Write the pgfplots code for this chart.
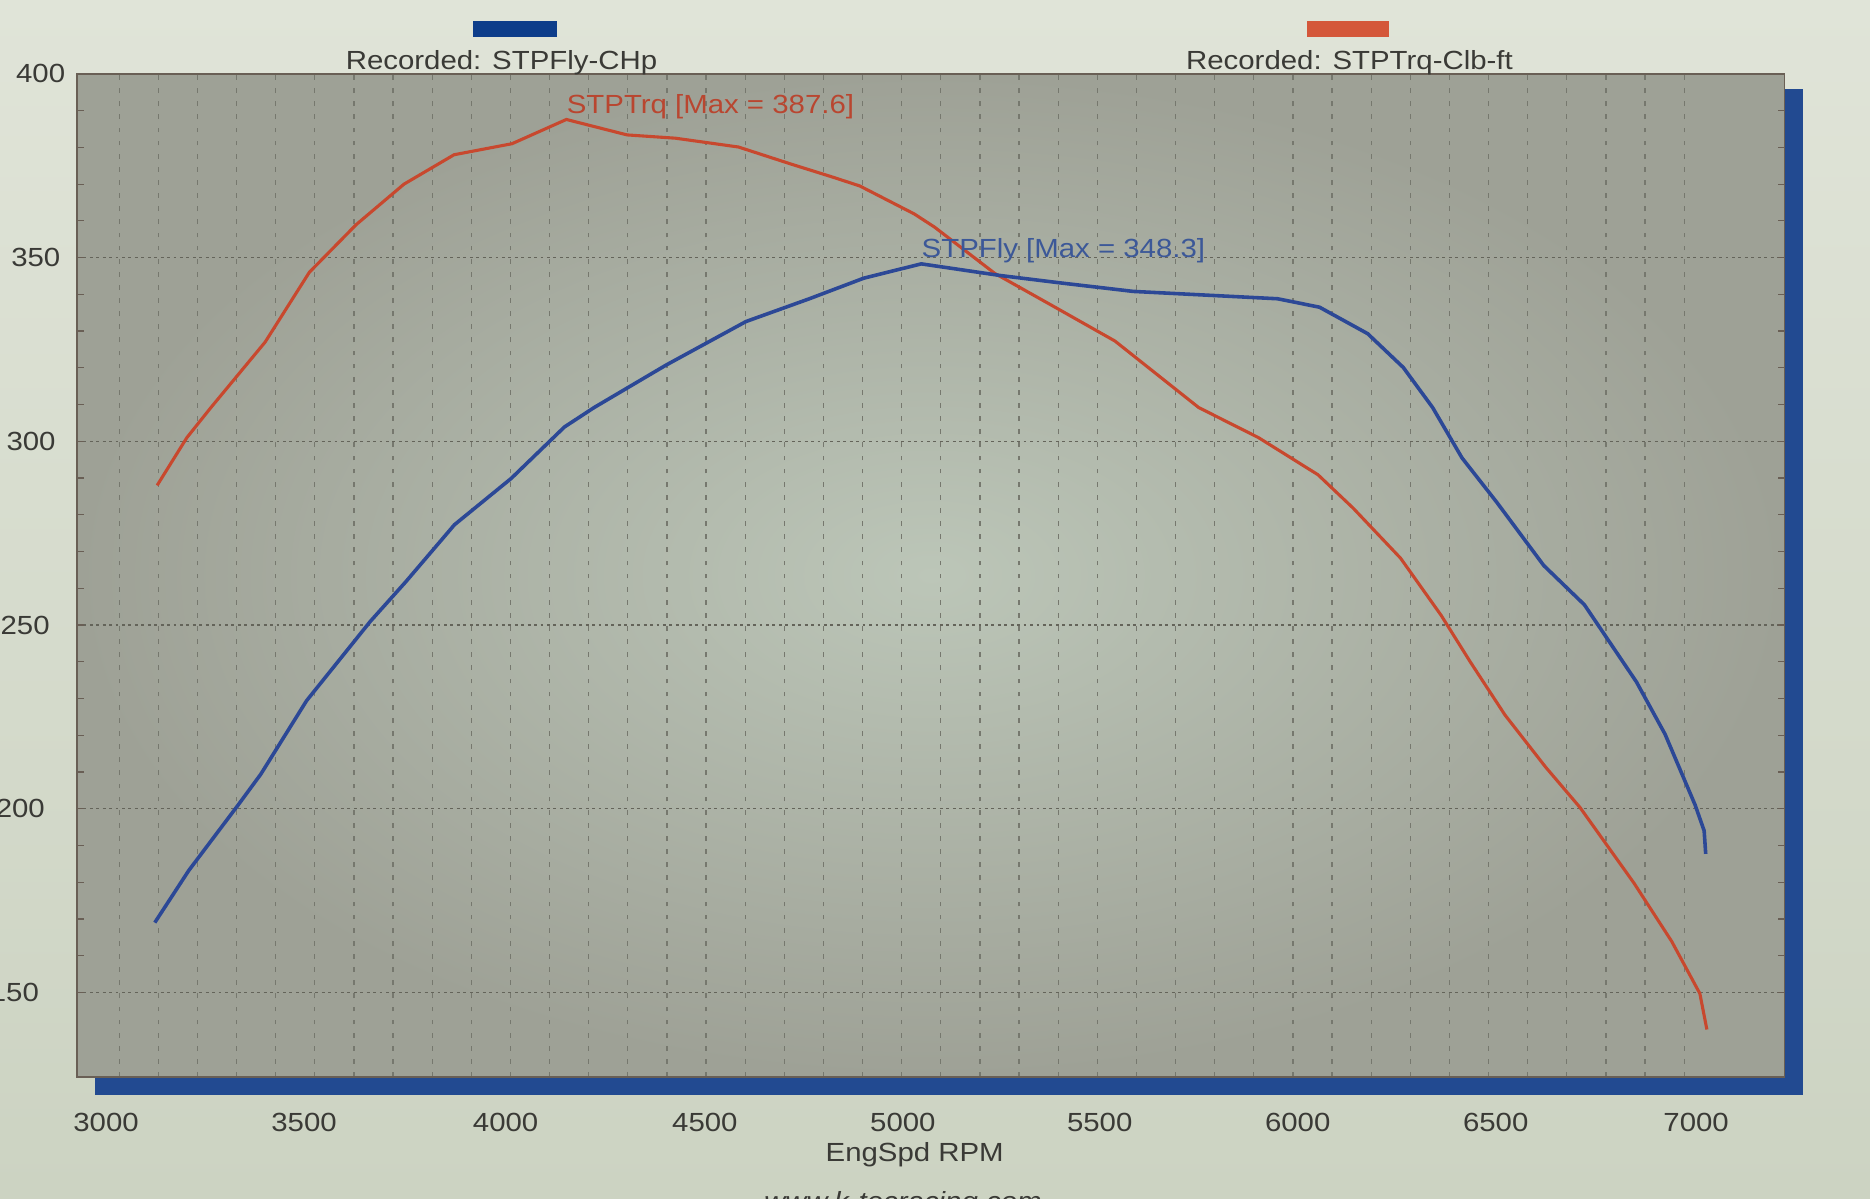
\documentclass[border=0pt]{standalone}
\usepackage{pgfplots}
\pgfplotsset{compat=1.18}
\usepackage{fontspec}
\setmainfont[FakeStretch=1.12]{Liberation Sans}
\definecolor{pagetop}{RGB}{224,228,216}
\definecolor{pagebot}{RGB}{204,211,194}
\definecolor{shadowblue}{RGB}{34,74,145}
\definecolor{plotin}{RGB}{188,198,184}
\definecolor{plotout}{RGB}{158,161,150}
\definecolor{gridc}{RGB}{118,120,110}
\definecolor{hgridc}{RGB}{100,100,90}
\definecolor{framec}{RGB}{105,95,85}
\definecolor{labc}{RGB}{58,58,54}
\definecolor{trqc}{RGB}{200,72,46}
\definecolor{trqtxt}{RGB}{185,70,48}
\definecolor{hpc}{RGB}{44,72,150}
\definecolor{hptxt}{RGB}{60,88,152}
\definecolor{legblue}{RGB}{13,61,138}
\definecolor{legorange}{RGB}{212,87,58}
\begin{document}
\fontsize{11pt}{13pt}\selectfont
\begin{tikzpicture}[x=1pt,y=1pt]
\shade[top color=pagetop, bottom color=pagebot] (0,0) rectangle (784,502.5);
\path[use as bounding box] (0,0) rectangle (784,502.5);
\fill[shadowblue] (39.75,43.5) rectangle (755.75,465);
\begin{axis}[
  at={(32.25pt,51pt)}, anchor=south west,
  scale only axis, width=716pt, height=420.5pt,
  xmin=2892, xmax=7257, ymin=127, ymax=400,
  axis background/.style={inner color=plotin, outer color=plotout},
  xtick={3000,3500,...,7000}, minor x tick num=4,
  ytick={150,200,...,400}, minor y tick num=4,
  xmajorgrids=true, xminorgrids=true, ymajorgrids=true,
  major x grid style={draw=gridc, line width=0.5pt, dash pattern=on 2pt off 3.5pt},
  minor x grid style={draw=gridc, line width=0.5pt, dash pattern=on 2pt off 3.5pt},
  major y grid style={draw=hgridc, line width=0.6pt, dash pattern=on 1.2pt off 1.5pt},
  axis line style={draw=framec, line width=0.6pt},
  x tick style={draw=none}, minor x tick style={draw=none},
  ytick align=inside, y tick style={draw=framec, line width=0.5pt},
  major tick length=3pt, minor tick length=3pt,
  /pgf/number format/assume math mode=true,
  /pgf/number format/1000 sep={},
  xticklabel style={anchor=north, inner sep=0pt, yshift=-15pt, text=labc},
  yticklabel style={anchor=east, inner sep=0pt, xshift=-4.75pt, text=labc},
  xticklabels={3000\kern11pt, 3500\kern9pt, 4000\kern4pt, 4500\kern1pt, \kern1pt 5000, \kern2pt 5500, \kern4pt 6000, \kern6pt 6500, \kern10pt 7000},
  yticklabels={150\kern11pt, 200\kern8.5pt, 250\kern6.5pt, 300\kern4pt, 350\kern2pt, 400},
]
\addplot[trqc, line width=1.3pt] coordinates {
(3097,288) (3173,301) (3233,309) (3373,327) (3486,346) (3606,359)
(3728,370) (3856,378) (4004,381) (4143,387.6) (4298,383.4) (4422,382.5)
(4583,380.1) (4716,375.5) (4824,371.9) (4893,369.5) (5032,361.9) (5084,358.3)
(5238,345.7) (5392,336.5) (5545,327.3) (5759,309.2) (5912,301.0) (6064,290.9)
(6154,281.8) (6275,268.2) (6379,252.6) (6453,240.0) (6542,225.5) (6646,211.3)
(6734,200.3) (6872,179.7) (6968,163.9) (7040,149.7) (7058,139.9)
};
\addplot[hpc, line width=1.5pt] coordinates {
(3091,169.0) (3178,183.2) (3304,201.0) (3362,209.4) (3479,229.4) (3642,251.0)
(3732,261.7) (3857,277.3) (4002,289.9) (4138,303.9) (4214,309.2) (4397,320.7)
(4602,332.6) (4764,338.8) (4903,344.4) (5050,348.3) (5254,345.1) (5407,343.1)
(5592,340.8) (5961,338.8) (6068,336.5) (6191,329.3) (6282,320.1) (6357,309.2)
(6432,295.5) (6521,283.4) (6641,266.2) (6745,255.5) (6878,234.5) (6951,220.3)
(7028,201.0) (7051,194.0) (7055,187.7)
};
\node[anchor=base west, inner sep=0pt, yshift=2.5pt, text=trqtxt] at (axis cs:4143,387.6) {STPTrq [Max = 387.6]};
\node[anchor=base west, inner sep=0pt, yshift=2.5pt, text=hptxt] at (axis cs:5050,348.3) {STPFly [Max = 348.3]};
\end{axis}
\fill[legblue] (198.5,487) rectangle (233.5,493.5);
\fill[legorange] (548,487) rectangle (582.5,493.5);
\node[anchor=base, inner sep=0pt, text=labc] at (210.25,473.5) {Recorded: STPFly-CHp};
\node[anchor=base, inner sep=0pt, text=labc] at (565.75,473.5) {Recorded: STPTrq-Clb-ft};
\node[anchor=base, inner sep=0pt, text=labc] at (383.5,15.5) {EngSpd RPM};
\node[anchor=base, inner sep=0pt, text=labc] at (378.5,-5) {\itshape www.k-tecracing.com};
\end{tikzpicture}
\end{document}
